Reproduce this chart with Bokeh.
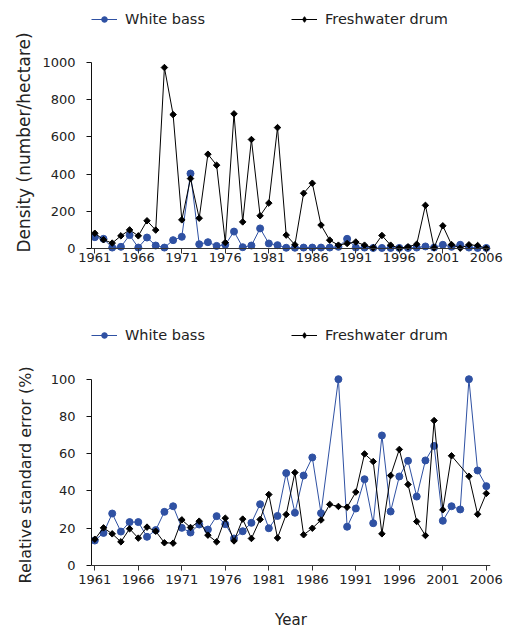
from bokeh.plotting import figure
from bokeh.models import Range1d, FixedTicker, Span, Legend, LegendItem, Title
from bokeh.layouts import column
from bokeh.embed import file_html
from bokeh.resources import INLINE
import math

years = list(range(1961, 2007))

density_white_bass = [61, 52, 5, 9, 72, 5, 59, 16, 5, 45,
                      63, 403, 23, 34, 14, 20, 91, 7, 16, 108,
                      27, 18, 4, 4, 5, 5, 5, 5, 9, 52,
                      5, 5, 3, 3, 3, 3, 3, 5, 11, 5,
                      20, 9, 20, 5, 3, 3]
density_drum = [82, 47, 29, 68, 100, 68, 149, 99, 973, 720,
                154, 376, 163, 507, 448, 32, 724, 143, 586, 176,
                244, 650, 72, 20, 297, 351, 126, 45, 18, 27,
                35, 18, 4, 70, 18, 2, 9, 23, 232, 4,
                122, 21, 2, 20, 16, 1]

rse_wb_years = [y for y in years if y != 1988]
rse_white_bass = [13.4, 17.5, 27.9, 18.2, 23.3, 23.3, 15.4, 19.0, 28.8, 31.8,
                  20.2, 17.7, 22.0, 19.3, 26.5, 22.2, 14.5, 18.4, 22.9, 32.9,
                  20.0, 26.6, 49.6, 28.3, 48.3, 58.0, 28.1, 100, 20.8,
                  30.6, 46.3, 22.7, 69.8, 29.0, 47.8, 56.2, 37.0, 56.4, 64.2,
                  24.0, 31.8, 30.1, 100, 51.0, 42.6]
rse_fd_years = [y for y in years if y != 2003]
rse_drum = [14.1, 20.2, 17.0, 12.7, 19.7, 14.7, 20.6, 18.4, 12.2, 12.0,
            24.5, 20.4, 23.8, 16.3, 12.7, 25.4, 13.2, 24.9, 14.5, 24.7,
            38.1, 14.8, 27.4, 49.9, 16.5, 20.0, 24.4, 32.8, 31.7, 31.3,
            39.4, 59.9, 55.8, 17.0, 48.3, 62.3, 43.5, 23.6, 16.1, 77.8,
            29.9, 58.9, 47.9, 27.5, 38.7]

x_ticks = [1961, 1966, 1971, 1976, 1981, 1986, 1991, 1996, 2001, 2006]
density_ticks = [0, 200, 400, 600, 800, 1000]
rse_ticks = [0, 20, 40, 60, 80, 100]

BLUE = "#2F51A3"
BLACK = "#000000"
FONT = "DejaVu Sans"


def make_panel(wb_x, wb_y, fd_x, fd_y, yticks, ystart, yend, ymax,
               frame_h, top, bottom, xlabel, xlab_standoff, legend_y):
    p = figure(frame_width=399, frame_height=frame_h,
               x_range=Range1d(1960.62, 2006.48), y_range=Range1d(ystart, yend),
               output_backend="svg", toolbar_location=None,
               min_border_left=91, min_border_right=15,
               min_border_top=top, min_border_bottom=bottom)
    p.outline_line_color = None
    p.xgrid.visible = False
    p.ygrid.visible = False

    lb = p.line(wb_x, wb_y, line_color=BLUE, line_width=1)
    sb = p.scatter(wb_x, wb_y, marker="circle", size=7, fill_color=BLUE,
                   line_color=BLUE)
    lf = p.line(fd_x, fd_y, line_color=BLACK, line_width=1)
    p.scatter(fd_x, fd_y, marker="square", size=4.6, angle=math.pi / 4,
              fill_color=BLACK, line_color=BLACK)
    # legend-only diamond glyph, its single point lies outside the x range
    sf_leg = p.scatter(x=[1900], y=[0], marker="diamond", size=9,
                       fill_color=BLACK, line_color=BLACK)

    p.add_layout(Span(location=0, dimension="width", line_color="#333333",
                      line_width=1))

    xa = p.xaxis[0]
    xa.ticker = FixedTicker(ticks=x_ticks)
    xa.axis_line_color = None
    xa.major_tick_in = 4
    xa.major_tick_out = 1
    xa.minor_tick_in = 0
    xa.minor_tick_out = 0
    xa.major_tick_line_color = "#333333"
    xa.major_label_standoff = xlab_standoff
    xa.major_label_text_font = FONT
    xa.major_label_text_font_size = "13px"
    xa.major_label_text_color = "#222222"
    if xlabel:
        xa.axis_label = xlabel
        xa.axis_label_text_font = FONT
        xa.axis_label_text_font_size = "15px"
        xa.axis_label_text_font_style = "normal"
        xa.axis_label_text_color = "#222222"
        xa.axis_label_standoff = 24

    ya = p.yaxis[0]
    ya.ticker = FixedTicker(ticks=yticks)
    ya.bounds = (0, ymax)
    ya.axis_line_color = "#111111"
    ya.major_tick_in = 0
    ya.major_tick_out = 5
    ya.minor_tick_in = 0
    ya.minor_tick_out = 0
    ya.major_tick_line_color = "#111111"
    ya.major_label_standoff = 11
    ya.major_label_text_font = FONT
    ya.major_label_text_font_size = "13px"
    ya.major_label_text_color = "#222222"

    legend = Legend(items=[LegendItem(label="White bass", renderers=[lb, sb]),
                           LegendItem(label="Freshwater drum", renderers=[lf, sf_leg])],
                    location=(0, legend_y), orientation="horizontal",
                    glyph_width=26, glyph_height=14, label_height=14,
                    label_standoff=8, spacing=86, padding=0, margin=0,
                    border_line_color=None, background_fill_alpha=0,
                    label_text_font=FONT, label_text_font_size="14.5px",
                    label_text_color="#222222")
    p.add_layout(legend)
    return p


# top panel: frame from y=5 to y=252 px, zero line at 248 px, 1000 at 62 px
p1 = make_panel(years, density_white_bass, years, density_drum,
                density_ticks, -21.5, 1306.5, 1000,
                247, 5, 48, None, -1, 225)
p1.add_layout(Title(text="Density (number/hectare)", align="left", offset=0,
                    vertical_align="middle", text_font=FONT,
                    text_font_size="17px", text_font_style="normal",
                    text_color="#222222"), "left")

# bottom panel: frame from y=305 to y=569 px, zero at 565 px, 100 at 378.7 px
p2 = make_panel(rse_wb_years, rse_white_bass, rse_fd_years, rse_drum,
                rse_ticks, -2.147, 139.56, 100,
                264, 5, 60, "Year", 4, 226)
p2.add_layout(Title(text="Relative standard error (%)", align="left", offset=-14,
                    standoff=24, vertical_align="middle", text_font=FONT,
                    text_font_size="16px", text_font_style="normal",
                    text_color="#222222"), "left")

layout = column(p1, p2, spacing=0)
open("out.html", "w").write(file_html(layout, INLINE))
